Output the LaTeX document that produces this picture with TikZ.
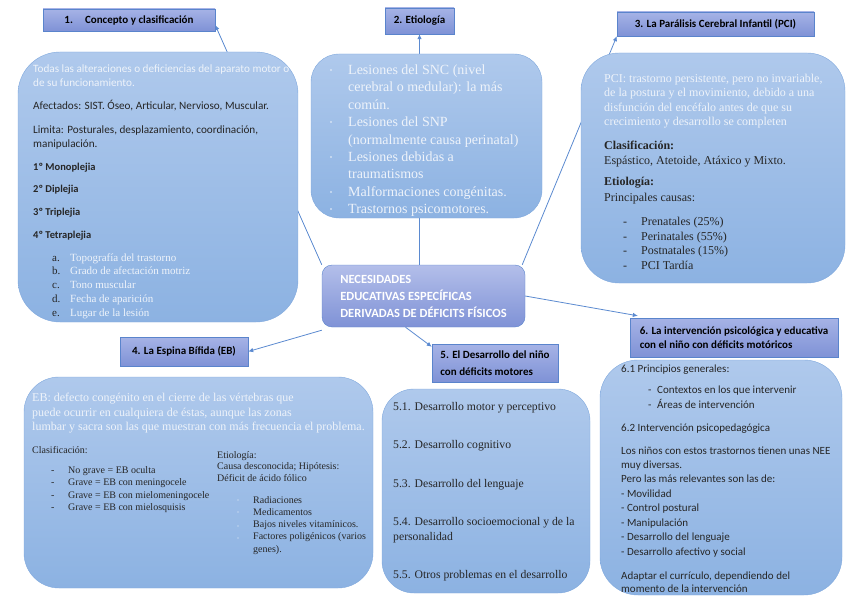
\documentclass[tikz,border=0pt]{standalone}
\usepackage{fontspec}
\setmainfont{Liberation Serif}
\newfontfamily\calibri{Carlito}
\usepackage{tikz}
\usetikzlibrary{arrows.meta,backgrounds,positioning}

\definecolor{titletop}{HTML}{A6B3E6}
\definecolor{titlebot}{HTML}{7F92D6}
\definecolor{titleedge}{HTML}{5A84CC}
\definecolor{boxtop}{HTML}{AFC9EC}
\definecolor{boxbot}{HTML}{8CB2E2}
\definecolor{boxedge}{HTML}{7FA8DD}
\definecolor{linkblue}{HTML}{5B8AD0}
\definecolor{lighttext}{HTML}{EEF3FA}
\definecolor{darktext}{HTML}{262626}

% 多行文字, 基线在第一行
\newcommand{\linestack}[1]{\begin{tabular}[t]{@{}l@{}}#1\end{tabular}}

\begin{document}
\begin{tikzpicture}[x=1pt,y=-1pt,
    % 标题框样式
    title box/.style={
        draw=titleedge,      % 蓝色边框
        top color=titletop,  % 上部颜色
        bottom color=titlebot, % 下部颜色
        inner sep=0pt,       % 内部填充为0
        align=left,          % 左对齐
        font=\calibri\bfseries\fontsize{11}{13}\selectfont
    },
    % 内容框样式 (圆角)
    content box/.style={
        draw=boxedge,        % 浅蓝边框
        top color=boxtop,    % 上部颜色
        bottom color=boxbot, % 下部颜色
        inner sep=0pt        % 内部填充为0
    },
    % 中心节点样式
    center box/.style={
        draw=titleedge,
        top color=titletop!85!white,
        bottom color=titlebot,
        rounded corners=10pt,
        align=left,
        text=white,
        font=\calibri\bfseries\fontsize{12.5}{17}\selectfont
    },
    % 文字样式
    txt/.style={
        anchor=base west,    % 以第一行基线左端定位
        inner sep=0pt,
        text=darktext
    },
    light/.style={text=lighttext},
    % 小圆点
    bullet dot/.style={
        circle, fill=lighttext, inner sep=0pt, minimum size=1.6pt
    },
    % 连线样式
    link/.style={
        draw=linkblue,
        line width=0.8pt,
        -{Latex[length=5pt,width=4.5pt]}
    }
]
\useasboundingbox (0,0) rectangle (848,599);

% 中心节点
\node[center box, minimum width=203pt, minimum height=62pt] (ctr) at (423.5,296)
    {NECESIDADES\\EDUCATIVAS ESPECÍFICAS\\DERIVADAS DE DÉFICITS FÍSICOS};

% 标题节点
\node[title box, minimum width=172pt, minimum height=22pt] (t1) at (129,20) {1.\hspace{1.1em}Concepto y clasificación};
\node[title box, minimum width=69pt, minimum height=26pt] (t2) at (419.5,21) {2. Etiología};
\node[title box, minimum width=197pt, minimum height=24pt] (t3) at (715.5,24) {3. La Parálisis Cerebral Infantil (PCI)};
\node[title box, minimum width=128pt, minimum height=29pt] (t4) at (184,351.5) {4. La Espina Bífida (EB)};
\node[title box, minimum width=126pt, minimum height=38pt, font=\calibri\bfseries\fontsize{11}{17}\selectfont] (t5) at (495,363)
    {5. El Desarrollo del niño\\con déficits motores};
\node[title box, minimum width=208pt, minimum height=39pt, font=\calibri\bfseries\fontsize{11}{13.5}\selectfont] (t6) at (734,337.5)
    {6. La intervención psicológica y educativa\\con el niño con déficits motóricos};

% 内容框
\node[content box, rounded corners=42pt, minimum width=280pt, minimum height=270pt] (boxA) at (158,187) {};
\node[content box, rounded corners=28pt, minimum width=231pt, minimum height=164pt] (boxB) at (426.5,136) {};
\node[content box, rounded corners=38pt, minimum width=264pt, minimum height=230pt] (boxC) at (713,168) {};
\node[content box, rounded corners=35pt, minimum width=349pt, minimum height=211pt] (boxD) at (198.5,482.5) {};
\node[content box, rounded corners=32pt, minimum width=208pt, minimum height=204pt] (boxE) at (486,491) {};
\node[content box, rounded corners=38pt, minimum width=242pt, minimum height=235pt] (boxF) at (721,477.5) {};

% 1. 概念与分类
\node[txt, light, font=\calibri\fontsize{11.2}{14}\selectfont] (Adef) at (33,73)
    {\linestack{Todas las alteraciones o deficiencias del aparato motor o\\de su funcionamiento.}};
\node[txt, font=\calibri\fontsize{11.2}{15}\selectfont] (Aafe) at (33,110)
    {Afectados: SIST. Óseo, Articular, Nervioso, Muscular.};
\node[txt, font=\calibri\fontsize{11.2}{14.5}\selectfont] (Alim) at (33,133)
    {\linestack{Limita: Posturales, desplazamiento, coordinación,\\manipulación.}};
\node[txt, font=\calibri\bfseries\fontsize{10.5}{22.7}\selectfont] (Atip) at (33,170)
    {\linestack{1º Monoplejia\\2º Diplejia\\3º Triplejia\\4º Tetraplejia}};
\node[txt, font=\fontsize{11}{13.9}\selectfont] (Alab) at (52,261) {\linestack{a.\\b.\\c.\\d.\\e.}};
\node[txt, light, font=\fontsize{11}{13.9}\selectfont] (Alst) at (70,261)
    {\linestack{Topografía del trastorno\\Grado de afectación motriz\\Tono muscular\\Fecha de aparición\\Lugar de la lesión}};

% 2. 病因
\node[txt, light, font=\fontsize{14}{17.4}\selectfont] (Bcau) at (348,74.5)
    {\linestack{Lesiones del SNC (nivel\\cerebral o medular): la más\\común.\\Lesiones del SNP\\(normalmente causa perinatal)\\Lesiones debidas a\\traumatismos\\Malformaciones congénitas.\\Trastornos psicomotores.}};
\foreach \n/\y in {1/70,2/122,3/157,4/192,5/209}
    \node[bullet dot] (Bdot\n) at (331,\y) {};

% 3. 脑瘫
\node[txt, light, font=\fontsize{12}{14.3}\selectfont] (Cdef) at (604,82.5)
    {\linestack{PCI: trastorno persistente, pero no invariable,\\de la postura y el movimiento, debido a una\\disfunción del encéfalo antes de que su\\crecimiento y desarrollo se completen}};
\node[txt, font=\fontsize{12}{14.7}\selectfont] (Ccla) at (604,149.5)
    {\linestack{\textbf{Clasificación:}\\Espástico, Atetoide, Atáxico y Mixto.}};
\node[txt, font=\fontsize{12}{15.5}\selectfont] (Ceti) at (604,185.5)
    {\linestack{\textbf{Etiología:}\\Principales causas:}};
\node[txt, font=\fontsize{12}{14.7}\selectfont] (Cdash) at (623,225.5) {\linestack{-\\-\\-\\-}};
\node[txt, font=\fontsize{12}{14.7}\selectfont] (Clst) at (641,225.5)
    {\linestack{Prenatales (25\%)\\Perinatales (55\%)\\Postnatales (15\%)\\PCI Tardía}};

% 4. 脊柱裂
\node[txt, light, font=\fontsize{12}{14.7}\selectfont] (Ddef) at (32,401.5)
    {\linestack{EB: defecto congénito en el cierre de las vértebras que\\puede ocurrir en cualquiera de éstas, aunque las zonas\\lumbar y sacra son las que muestran con más frecuencia el problema.}};
\node[txt, font=\fontsize{10}{12.5}\selectfont] (Dcla) at (32,453) {Clasificación:};
\node[txt, font=\fontsize{10}{12.5}\selectfont] (Ddash) at (51,473) {\linestack{-\\-\\-\\-}};
\node[txt, font=\fontsize{10}{12.5}\selectfont] (Dlst) at (68,473)
    {\linestack{No grave = EB oculta\\Grave = EB con meningocele\\Grave = EB con mielomeningocele\\Grave = EB con mielosquisis}};
\node[txt, font=\fontsize{10}{11.7}\selectfont] (Deti) at (217,458)
    {\linestack{Etiología:\\Causa desconocida; Hipótesis:\\Déficit de ácido fólico}};
\foreach \n/\y in {1/500,2/512,3/526,4/538}
    \node[bullet dot, minimum size=1.2pt] (Ddot\n) at (238,\y) {};
\node[txt, font=\fontsize{10}{12.3}\selectfont] (Dfac) at (253,503)
    {\linestack{Radiaciones\\Medicamentos\\Bajos niveles vitamínicos.\\Factores poligénicos (varios\\genes).}};

% 5. 儿童发展
\node[txt, font=\fontsize{11.7}{15}\selectfont] (Elst) at (393,410.5)
    {\linestack{5.1. Desarrollo motor y perceptivo\\[23pt]5.2. Desarrollo cognitivo\\[24pt]5.3. Desarrollo del lenguaje\\[23pt]5.4. Desarrollo socioemocional y de la\\personalidad\\[23pt]5.5. Otros problemas en el desarrollo}};

% 6. 干预
\node[txt, font=\calibri\fontsize{11}{14}\selectfont] (F61) at (621,372) {6.1 Principios generales:};
\node[txt, font=\calibri\fontsize{11}{15.5}\selectfont] (Fdash) at (648,393) {\linestack{-\\-}};
\node[txt, font=\calibri\fontsize{11}{15.5}\selectfont] (Fsub) at (657,393)
    {\linestack{Contextos en los que intervenir\\Áreas de intervención}};
\node[txt, font=\calibri\fontsize{11}{14}\selectfont] (F62) at (621,431) {6.2 Intervención psicopedagógica};
\node[txt, font=\calibri\fontsize{11}{14.43}\selectfont] (Fnee) at (621,454)
    {\linestack{Los niños con estos trastornos tienen unas NEE\\muy diversas.\\Pero las más relevantes son las de:\\- Movilidad\\- Control postural\\- Manipulación\\- Desarrollo del lenguaje\\- Desarrollo afectivo y social}};
\node[txt, font=\calibri\fontsize{11}{13.5}\selectfont] (Fada) at (621,579)
    {\linestack{Adaptar el currículo, dependiendo del\\momento de la intervención}};

% 连线 (放在背景层)
\begin{scope}[on background layer]
\draw[link] (ctr.north west) -- ([yshift=-5pt]t1.east);
\draw[link] (t2.south |- ctr.north) -- (t2.south);
\draw[link] ([xshift=-3pt]ctr.north east) -- (t3.south west);
\draw[link] ([yshift=-3pt]ctr.south west) -- (t4.east);
\draw[link] ([xshift=-18pt]ctr.south) -- ([yshift=-3pt]t5.north west);
\draw[link] (ctr.east) -- ([xshift=8pt,yshift=2pt]t6.north west);
\end{scope}

\end{tikzpicture}
\end{document}
